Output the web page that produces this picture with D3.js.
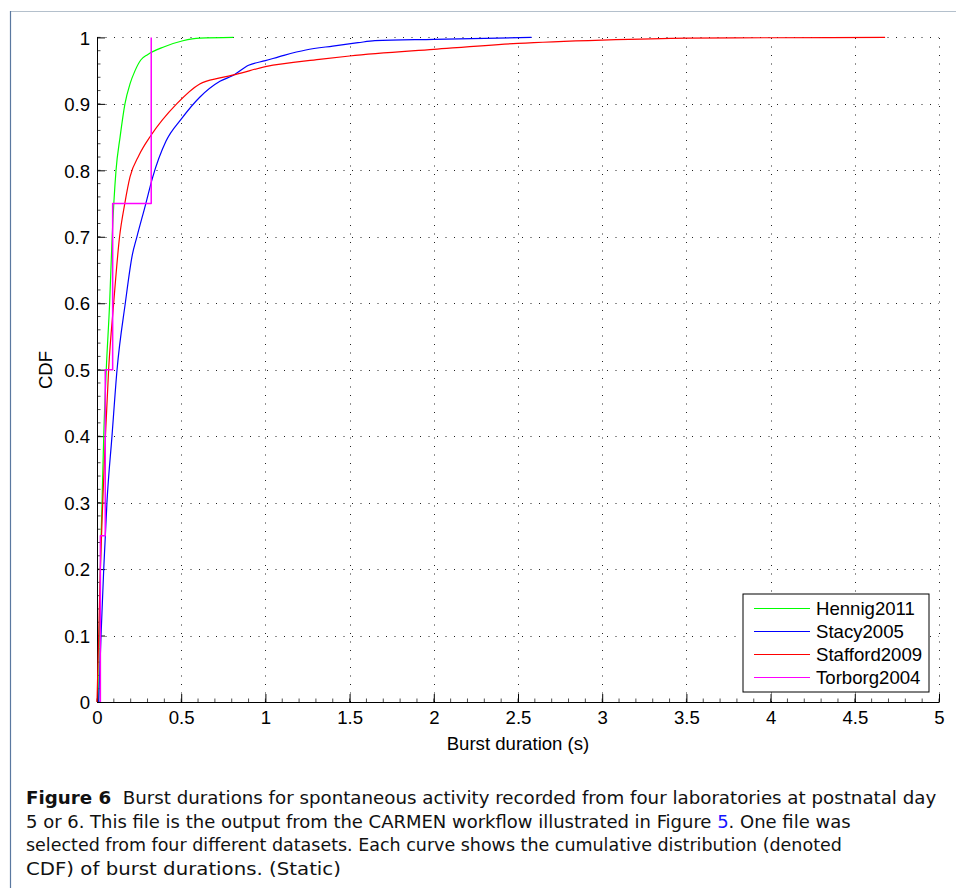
<!DOCTYPE html>
<html><head><meta charset="utf-8">
<script src="https://cdn.jsdelivr.net/npm/d3@7/dist/d3.min.js"></script>
<style>body{margin:0;background:#fff}svg{display:block}</style>
</head><body>
<svg id="c" width="956" height="888"></svg>
<script>
// ---- data ----
const seriesNames = ["Hennig2011", "Stacy2005", "Stafford2009", "Torborg2004"];

const hennigX = [0.01, 0.014, 0.02, 0.03, 0.04, 0.055, 0.075, 0.09, 0.113, 0.137, 0.166, 0.196, 0.226, 0.26, 0.30, 0.40, 0.51, 0.61, 0.81];
const hennigY = [0, 0.1, 0.2, 0.3, 0.4, 0.5, 0.6, 0.7, 0.8, 0.85, 0.9, 0.93, 0.95, 0.966, 0.974, 0.986, 0.995, 0.999, 1.0];

const stacyX = [0.01, 0.024, 0.04, 0.059, 0.089, 0.119, 0.168, 0.21, 0.237, 0.29, 0.33, 0.41, 0.5, 0.61, 0.73, 0.81, 0.9, 1.0, 1.11, 1.24, 1.4, 1.55, 1.65, 2.0, 2.58];
const stacyY = [0, 0.1, 0.2, 0.3, 0.4, 0.5, 0.6, 0.673, 0.7, 0.75, 0.789, 0.844, 0.877, 0.91, 0.934, 0.943, 0.958, 0.965, 0.973, 0.981, 0.987, 0.992, 0.995, 0.997, 1.0];

const staffordX = [0, 0.01, 0.02, 0.034, 0.05, 0.069, 0.099, 0.134, 0.165, 0.196, 0.25, 0.319, 0.473, 0.61, 0.73, 0.82, 1.0, 1.32, 1.5, 2.0, 2.5, 3.0, 3.5, 4.0, 4.68];
const staffordY = [0, 0.1, 0.2, 0.3, 0.4, 0.5, 0.6, 0.7, 0.75, 0.79, 0.823, 0.852, 0.9, 0.93, 0.939, 0.944, 0.956, 0.967, 0.972, 0.982, 0.991, 0.996, 0.999, 0.9995, 1.0];

const torborgX = [0.02, 0.02, 0.049, 0.093, 0.322];
const torborgY = [0, 0.25, 0.5, 0.75, 1.0];

const xTicks = [0, 0.5, 1, 1.5, 2, 2.5, 3, 3.5, 4, 4.5, 5];
const xTickLabels = ["0", "0.5", "1", "1.5", "2", "2.5", "3", "3.5", "4", "4.5", "5"];
const yTicks = [0, 0.1, 0.2, 0.3, 0.4, 0.5, 0.6, 0.7, 0.8, 0.9, 1];
const yTickLabels = ["0", "0.1", "0.2", "0.3", "0.4", "0.5", "0.6", "0.7", "0.8", "0.9", "1"];

const xLabel = "Burst duration (s)";
const yLabel = "CDF";

const captionLines = [
  [["Figure 6", "b"], ["  Burst durations for spontaneous activity recorded from four laboratories at postnatal day", ""]],
  [["5 or 6. This file is the output from the CARMEN workflow illustrated in Figure ", ""], ["5", "l"], [". One file was", ""]],
  [["selected from four different datasets. Each curve shows the cumulative distribution (denoted", ""]],
  [["CDF) of burst durations. (Static)", ""]]
];

// ---- styles ----
const colors = ["#00ff00", "#0000ff", "#ff0000", "#ff00ff"];
const font = "'Liberation Sans', Arial, Helvetica, sans-serif";
const fs = 18.6;

const svg = d3.select("#c");

// page frame
svg.append("line").attr("x1", 10).attr("x2", 956).attr("y1", 11.5).attr("y2", 11.5)
  .attr("stroke", "#b4c0cc").attr("stroke-width", 1);
svg.append("line").attr("x1", 10.5).attr("x2", 10.5).attr("y1", 11).attr("y2", 888)
  .attr("stroke", "#5a78a0").attr("stroke-width", 1.2);

const x = d3.scaleLinear().domain([0, 5]).range([97, 939]);
const y = d3.scaleLinear().domain([0, 1]).range([702, 37.4]);

// grid
const g = svg.append("g");
g.selectAll(".gx").data(xTicks.slice(1)).join("line")
  .attr("x1", d => Math.round(x(d)) + 0.5).attr("x2", d => Math.round(x(d)) + 0.5)
  .attr("y1", y(0)).attr("y2", y(1))
  .attr("stroke", "#222").attr("stroke-width", 1).attr("stroke-dasharray", "1,7.5");
g.selectAll(".gy").data(yTicks.slice(1)).join("line")
  .attr("y1", d => Math.round(y(d)) + 0.5).attr("y2", d => Math.round(y(d)) + 0.5)
  .attr("x1", x(0)).attr("x2", x(5))
  .attr("stroke", "#222").attr("stroke-width", 1).attr("stroke-dasharray", "1,7.5");

// axes
const xAxis = d3.axisBottom(x).tickValues(xTicks).tickFormat((d, i) => xTickLabels[i])
  .tickSizeInner(-8).tickSizeOuter(0).tickPadding(9);
const yAxis = d3.axisLeft(y).tickValues(yTicks).tickFormat((d, i) => yTickLabels[i])
  .tickSizeInner(-8).tickSizeOuter(0).tickPadding(7);

const minorX = d3.range(0, 5.0001, 0.1);
const minorY = d3.range(0, 1.0001, 0.02);
svg.append("g").selectAll("line").data(minorX).join("line")
  .attr("x1", d => x(d)).attr("x2", d => x(d)).attr("y1", y(0)).attr("y2", y(0) - 3.5)
  .attr("stroke", "#000").attr("stroke-width", 0.7);
svg.append("g").selectAll("line").data(minorY).join("line")
  .attr("y1", d => y(d)).attr("y2", d => y(d)).attr("x1", x(0)).attr("x2", x(0) + 3.5)
  .attr("stroke", "#000").attr("stroke-width", 0.7);

const gx = svg.append("g").attr("transform", `translate(0,${y(0)})`).call(xAxis);
const gy = svg.append("g").attr("transform", `translate(${x(0)},0)`).call(yAxis);
[gx, gy].forEach(a => {
  a.selectAll("text").attr("font-family", font).attr("font-size", fs).attr("fill", "#000");
  a.attr("font-family", font);
  a.selectAll("path,line").attr("stroke", "#000").attr("stroke-width", 1);
});
gy.selectAll("text").attr("dy", "0.36em");
gx.selectAll("text").attr("dy", "0.71em");

// axis labels
svg.append("text").attr("x", x(2.5)).attr("y", 750).attr("text-anchor", "middle")
  .attr("font-family", font).attr("font-size", fs).text(xLabel);
svg.append("text").attr("transform", `translate(52,370) rotate(-90)`).attr("text-anchor", "middle")
  .attr("font-family", font).attr("font-size", fs).text(yLabel);

// curves
const line = d3.line().x(d => x(d[0])).y(d => y(d[1])).curve(d3.curveMonotoneX);
const stepLine = d3.line().x(d => x(d[0])).y(d => y(d[1])).curve(d3.curveStepAfter);
const series = [
  { xs: hennigX, ys: hennigY, gen: line },
  { xs: stacyX, ys: stacyY, gen: line },
  { xs: staffordX, ys: staffordY, gen: line },
  { xs: torborgX, ys: torborgY, gen: stepLine }
];
series.forEach((s, i) => {
  const pts = s.xs.map((v, j) => [v, s.ys[j]]);
  svg.append("path").attr("d", s.gen(pts)).attr("fill", "none")
    .attr("stroke", colors[i]).attr("stroke-width", i === 3 ? 1.5 : 1.2)
    .attr("stroke-linejoin", "round");
});

// legend
const lg = svg.append("g");
lg.append("rect").attr("x", 743).attr("y", 594).attr("width", 186).attr("height", 98)
  .attr("fill", "#fff").attr("stroke", "#000").attr("stroke-width", 1);
const legScale = d3.scaleBand().domain(seriesNames).range([597, 689]);
seriesNames.forEach((n, i) => {
  const cy = legScale(n) + legScale.bandwidth() / 2;
  lg.append("line").attr("x1", 754).attr("x2", 810).attr("y1", cy).attr("y2", cy)
    .attr("stroke", colors[i]).attr("stroke-width", 1.2);
  lg.append("text").attr("x", 816).attr("y", cy).attr("dy", "0.36em")
    .attr("font-family", font).attr("font-size", fs).text(n);
});

// caption
const capFont = "'Liberation Sans Narrow', 'DejaVu Sans Condensed', 'Liberation Sans', sans-serif";
const capBase = [804, 827.5, 851, 874.5];
const capRight = [937, 851, 842, 341];
captionLines.forEach((segs, i) => {
  const t = svg.append("text").attr("x", 0).attr("y", 0)
    .attr("font-family", capFont).attr("font-size", 18.5).attr("fill", "#111");
  segs.forEach(([s, k]) => {
    const ts = t.append("tspan").text(s).attr("xml:space", "preserve");
    if (k === "b") ts.attr("font-weight", "bold");
    if (k === "l") ts.attr("fill", "#1515ff");
  });
  t.style("white-space", "pre");
  const w = t.node().getComputedTextLength();
  const sx = (capRight[i] - 26) / w;
  t.attr("transform", `translate(26,${capBase[i]}) scale(${sx},1)`);
});
</script>
</body></html>
